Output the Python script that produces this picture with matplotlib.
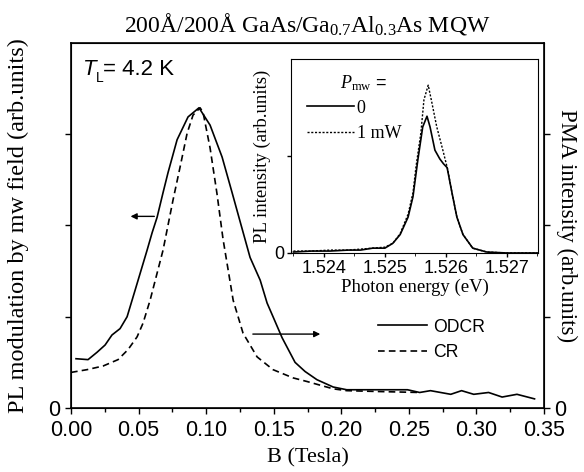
import matplotlib
matplotlib.use("Agg")
import matplotlib.pyplot as plt
from matplotlib.ticker import MultipleLocator

plt.rcParams['font.family'] = ['Liberation Sans', 'DejaVu Sans']
plt.rcParams['mathtext.fontset'] = 'custom'
plt.rcParams['mathtext.rm'] = 'Liberation Serif'
plt.rcParams['mathtext.it'] = 'Liberation Serif:italic'

SERIF = ['Liberation Serif', 'DejaVu Serif']

# main panel: B field (T) vs signal (arb. units)
b_odcr = [0.0037, 0.0126, 0.0192, 0.0252, 0.0303, 0.0363, 0.0415, 0.0474, 0.0563,
          0.0600, 0.0637, 0.0681, 0.0718, 0.0785, 0.0866, 0.0947, 0.1029, 0.1118,
          0.1192, 0.1250, 0.1325, 0.1400, 0.1451, 0.1495, 0.1562, 0.1658, 0.1732,
          0.1820, 0.1940, 0.2040, 0.2290, 0.2490, 0.2580, 0.2660, 0.2810, 0.2890,
          0.2980, 0.3090, 0.3190, 0.3300, 0.3430]
odcr = [0.54, 0.53, 0.61, 0.69, 0.80, 0.87, 1.00, 1.29, 1.73,
        1.92, 2.09, 2.36, 2.58, 2.94, 3.19, 3.29, 3.10, 2.75,
        2.36, 2.05, 1.65, 1.40, 1.15, 1.00, 0.77, 0.50, 0.40,
        0.31, 0.23, 0.20, 0.20, 0.20, 0.17, 0.19, 0.15, 0.19,
        0.15, 0.17, 0.12, 0.15, 0.10]

b_cr = [0.0, 0.0118, 0.0237, 0.0348, 0.0422, 0.0489, 0.0533, 0.0585, 0.0681,
        0.0755, 0.0807, 0.0859, 0.0903, 0.0955, 0.0977, 0.1029, 0.1080, 0.1125,
        0.1200, 0.1273, 0.1377, 0.1495, 0.1643, 0.1747, 0.1940, 0.2040, 0.2290,
        0.2580]
cr = [0.39, 0.42, 0.46, 0.53, 0.64, 0.78, 0.93, 1.18, 1.73,
      2.28, 2.64, 3.01, 3.21, 3.29, 3.24, 2.85, 2.35, 1.85,
      1.18, 0.82, 0.56, 0.42, 0.33, 0.29, 0.21, 0.19, 0.18,
      0.17]

# inset: photon energy (eV) vs PL intensity
e_0 = [1.5235, 1.5238, 1.5241, 1.5244, 1.5246, 1.5248, 1.5250, 1.52513, 1.52525,
       1.52538, 1.52546, 1.52554, 1.52562, 1.52569, 1.52574, 1.52582, 1.52590,
       1.52596, 1.52602, 1.52610, 1.52618, 1.52628, 1.52644, 1.52667, 1.5270, 1.5275]
pl_0 = [0.01, 0.02, 0.02, 0.03, 0.03, 0.05, 0.05, 0.10, 0.19,
        0.37, 0.58, 0.96, 1.30, 1.41, 1.30, 1.06, 0.97,
        0.92, 0.88, 0.62, 0.37, 0.19, 0.05, 0.01, 0.0, 0.0]
e_1 = [1.5235, 1.5238, 1.5241, 1.5244, 1.5246, 1.5248, 1.5250, 1.52513, 1.52525,
       1.52538, 1.52546, 1.52551, 1.52559, 1.52564, 1.52571, 1.52577, 1.52585,
       1.52595, 1.52603, 1.52610, 1.52618, 1.52628, 1.52644, 1.52667, 1.5270, 1.5275]
pl_1 = [0.02, 0.02, 0.03, 0.03, 0.04, 0.05, 0.06, 0.10, 0.20,
        0.40, 0.62, 0.89, 1.24, 1.58, 1.73, 1.55, 1.30,
        1.06, 0.86, 0.62, 0.37, 0.19, 0.05, 0.01, 0.0, 0.0]

fig = plt.figure(figsize=(5.84, 4.72), dpi=100)
ax = fig.add_axes([0.1216, 0.1356, 0.8099, 0.7733])

ax.plot(b_odcr, odcr, color='k', lw=1.2, label='ODCR')
ax.plot(b_cr, cr, color='k', lw=1.2, ls=(0, (4, 2.5)), label='CR')
ax.set_xlim(0, 0.35)
ax.set_ylim(0, 4)
ax.xaxis.set_major_locator(MultipleLocator(0.05))
ax.xaxis.set_minor_locator(MultipleLocator(0.025))
ax.set_yticks([0, 1, 2, 3])
ax.set_yticklabels(['0', '', '', ''])
ax.xaxis.set_major_formatter(plt.FormatStrFormatter('%.2f'))
ax.tick_params(labelsize=15.5, direction='out', length=4, width=1)
ax.tick_params(axis='x', pad=5)
ax.tick_params(which='minor', direction='out', length=3, width=1)
ax.set_xlabel('B (Tesla)', family=SERIF, fontsize=16, labelpad=5)
ax.set_ylabel('PL modulation by mw field (arb.units)', family=SERIF, fontsize=17.5, labelpad=14)
ax.set_title(r'200$\mathrm{\AA}$/200$\mathrm{\AA}$ GaAs/Ga$_{0.7}$Al$_{0.3}$As MQW',
             family=SERIF, fontsize=17, pad=8)
for s in ax.spines.values():
    s.set_linewidth(1.2)

ax2 = ax.twinx()
ax2.set_ylim(0, 4)
ax2.set_yticks([0, 1, 2, 3])
ax2.set_yticklabels(['0', '', '', ''])
ax2.tick_params(labelsize=15.5, direction='out', length=4, width=1)
ax2.set_ylabel('PMA intensity (arb.units)', family=SERIF, fontsize=16.5, rotation=-90, labelpad=8)

# T_L = 4.2 K
ax.text(0.025, 0.955, 'T', style='italic', fontsize=16, transform=ax.transAxes, va='top')
ax.text(0.053, 0.922, 'L', fontsize=10, transform=ax.transAxes, va='top')
ax.text(0.068, 0.955, '= 4.2 K', fontsize=16, transform=ax.transAxes, va='top')

# arrows
ax.annotate('', xy=(0.042, 2.10), xytext=(0.0637, 2.10),
            arrowprops=dict(arrowstyle='-|>', color='k', lw=1, mutation_scale=9))
ax.annotate('', xy=(0.1865, 0.81), xytext=(0.1325, 0.81),
            arrowprops=dict(arrowstyle='-|>', color='k', lw=1, mutation_scale=9))

ax.legend(loc='upper left', bbox_to_anchor=(0.649, 0.245), frameon=False, fontsize=12.7,
          handlelength=2.8, handletextpad=0.3, borderpad=0, borderaxespad=0, labelspacing=0.5)

# inset
ins = fig.add_axes([0.4983, 0.464, 0.4229, 0.411])
ins.plot(e_0, pl_0, color='k', lw=1.2, label='0')
ins.plot(e_1, pl_1, color='k', lw=1.0, ls=(0, (1.5, 1.2)), label='1 mW')
ins.set_xlim(1.52346, 1.52751)
ins.set_ylim(0, 2)
ins.set_xticks([1.524, 1.525, 1.526, 1.527])
ins.set_xticklabels(['1.524', '1.525', '1.526', '1.527'])
ins.xaxis.set_minor_locator(MultipleLocator(0.0005))
ins.set_yticks([0, 1])
ins.set_yticklabels(['0', ''])
ins.tick_params(labelsize=13, direction='out', length=3, width=1, pad=2)
ins.tick_params(which='minor', direction='out', length=2)
ins.set_xlabel('Photon energy (eV)', family=SERIF, fontsize=13.5, labelpad=1)
ins.set_ylabel('PL intensity (arb.units)', family=SERIF, fontsize=13.5, labelpad=2)
ins.text(0.2, 0.876, r'$P_{\mathrm{mw}}$ =', fontsize=13, transform=ins.transAxes, va='center')
ins.legend(loc='upper left', bbox_to_anchor=(0.065, 0.79), frameon=False,
           prop={'family': SERIF, 'size': 13}, handlelength=2.6, handletextpad=0.15,
           borderpad=0, borderaxespad=0, labelspacing=0.45)

fig.savefig('out.png', dpi=100)
